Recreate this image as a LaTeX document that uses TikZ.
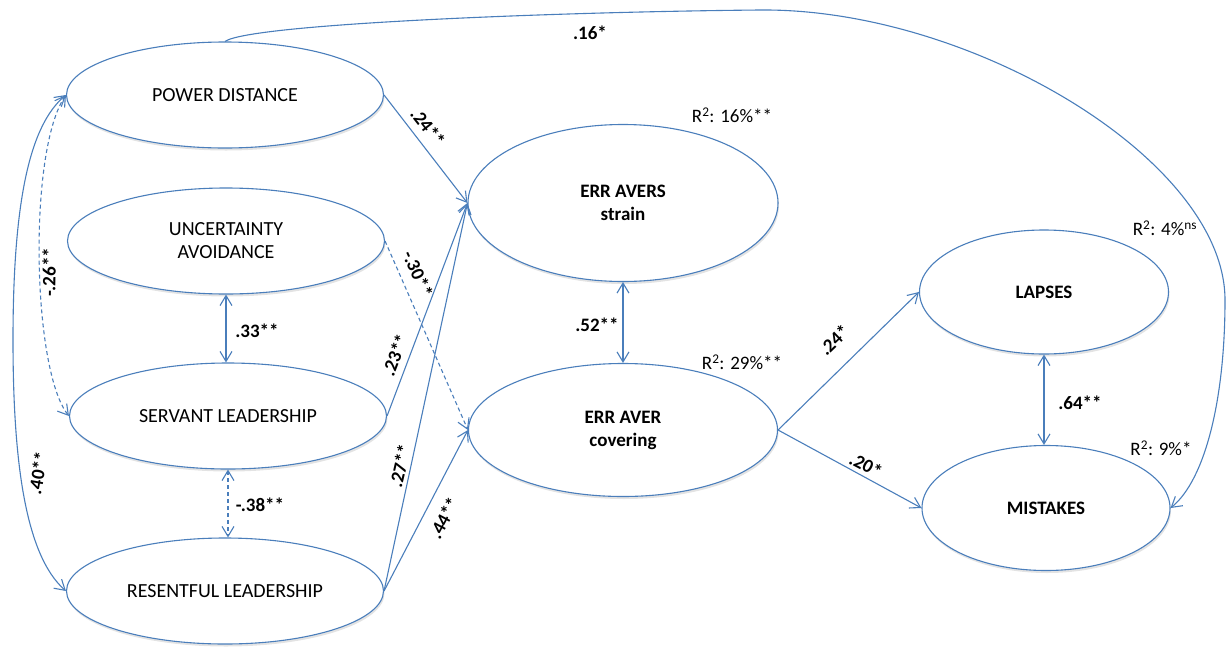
\documentclass[tikz,border=0pt]{standalone}
\usepackage{fontspec}
\setmainfont{Carlito}
\usetikzlibrary{arrows.meta,shapes.geometric,shadows}
\definecolor{lineblue}{HTML}{4A7EBB}
\begin{document}
\begin{tikzpicture}[x=1pt,y=-1pt,
  >={Straight Barb[length=10pt,width=12pt]},
  latent/.style={ellipse, draw=lineblue, line width=1.1pt, fill=white,
    inner sep=0pt, align=center,
    drop shadow={shadow xshift=1pt, shadow yshift=-2.5pt, opacity=0.22}},
  factor/.style={latent, minimum width=317pt, minimum height=106pt,
    font=\fontsize{20}{23}\selectfont},
  outcome/.style={latent, font=\fontsize{19}{23}\selectfont\bfseries},
  link/.style={draw=lineblue, line width=1.1pt},
  neglink/.style={link, dash pattern=on 4pt off 3pt},
  coef/.style={font=\fontsize{19}{22}\selectfont\bfseries, inner sep=0pt},
  rsq/.style={font=\fontsize{19}{22}\selectfont, inner sep=0pt}]

\useasboundingbox (0,0) rectangle (1227,646);

% latent constructs
\node[factor] (pd) at (225,95)  {POWER DISTANCE};
\node[factor] (ua) at (226,241) {UNCERTAINTY\\AVOIDANCE};
\node[factor] (sl) at (228,416) {SERVANT LEADERSHIP};
\node[factor] (rl) at (225,591) {RESENTFUL LEADERSHIP};
\node[outcome, minimum width=310pt, minimum height=157pt] (es) at (623,203) {ERR AVERS\\strain};
\node[outcome, minimum width=309pt, minimum height=133pt] (ec) at (623,430) {ERR AVER\\covering};
\node[outcome, minimum width=249pt, minimum height=124pt] (la) at (1044,292) {LAPSES};
\node[outcome, minimum width=248pt, minimum height=125pt] (mi) at (1046,508) {MISTAKES};

% waypoints of the curved paths
\coordinate (lt) at (13,340);
\coordinate (arcTop) at (760,10);
\coordinate (arcRight) at (1225,300);

% directed paths
\draw[link,->] (pd.east) -- (es.west);
\draw[neglink,->] (ua.east) -- (ec.west);
\draw[link,->] (sl.east) -- (es.west);
\draw[link,->] (rl.east) -- (es.west);
\draw[link,->] (rl.east) -- (ec.west);
\draw[link,->] (ec.east) -- (la.west);
\draw[link,->] (ec.east) -- (mi.west);
\draw[link,->] (pd.north) .. controls (250,24) and (550,12) .. (arcTop)
  .. controls (970,8) and (1225,160) .. (arcRight)
  .. controls (1225,400) and (1205,480) .. (mi.east);

% correlations
\draw[link,<->] (ua.south) -- (ua.south |- sl.north);
\draw[neglink,<->] (sl.south) -- (sl.south |- rl.north);
\draw[link,<->] (es.south) -- (es.south |- ec.north);
\draw[link,<->] (la.south) -- (la.south |- mi.north);
\draw[link,<->] (pd.west) .. controls (30,125) and (13,200) .. (lt)
  .. controls (13,460) and (25,555) .. (rl.west);
\draw[neglink,<->] (pd.west) .. controls (28,150) and (32,370) .. (sl.west);

% coefficients
\node[coef, rotate=-52] (c24) at (428,127) {.24**};
\node[coef, rotate=-66] (c30) at (418,274) {-.30**};
\node[coef, rotate=69]  (c23) at (395,355) {.23**};
\node[coef, rotate=77]  (c27) at (400,466) {.27**};
\node[coef, rotate=62]  (c44) at (444,518) {.44**};
\node[coef, rotate=80]  (c40) at (38,473)  {.40**};
\node[coef, rotate=89]  (c26) at (49,272)  {-.26**};
\node[coef] (c33) at (257,331) {.33**};
\node[coef] (c38) at (260,505) {-.38**};
\node[coef] (c52) at (597,325) {.52**};
\node[coef, rotate=44]  (c24b) at (834,340) {.24*};
\node[coef, rotate=-28] (c20) at (866,465) {.20*};
\node[coef] (c64) at (1080,403) {.64**};
\node[coef] (c16) at (590,33) {.16*};

% explained variance
\node[rsq] (r16) at (732,115) {R\textsuperscript{2}: 16\%**};
\node[rsq] (r29) at (742,362) {R\textsuperscript{2}: 29\%**};
\node[rsq] (r4)  at (1165,228) {R\textsuperscript{2}: 4\%\textsuperscript{ns}};
\node[rsq] (r9)  at (1161,448) {R\textsuperscript{2}: 9\%*};
\end{tikzpicture}
\end{document}
